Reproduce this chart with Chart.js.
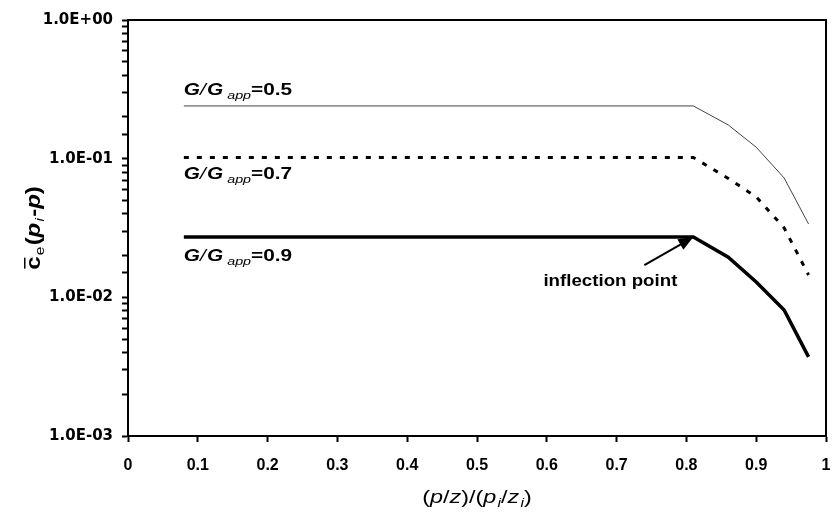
<!DOCTYPE html>
<html lang="en">
<head>
  <meta charset="UTF-8" />
  <title>Pressure ratio chart</title>
  <script src="https://cdn.jsdelivr.net/npm/chart.js"></script>
  <style>
    body { margin: 0; background: #fff; }
    #wrap { width: 833px; height: 517px; }
  </style>
</head>
<body>
  <div id="wrap"><canvas id="chart" width="833" height="517"></canvas></div>

  <script>
    // values
    const xVals = [0.08, 0.81, 0.86, 0.90, 0.94, 0.975];
    const c05 = [0.24, 0.24, 0.175, 0.121, 0.0726, 0.0338];
    const c07 = [0.102, 0.102, 0.072, 0.053, 0.0317, 0.0145];
    const c09 = [0.0272, 0.0272, 0.0195, 0.0129, 0.0081, 0.00372];
    const ratios = ['0.5', '0.7', '0.9'];
    const xTicks = [0, 0.1, 0.2, 0.3, 0.4, 0.5, 0.6, 0.7, 0.8, 0.9, 1];
    const yMajor = [1, 0.1, 0.01, 0.001];

    const toPts = ys => ys.map((y, i) => ({ x: xVals[i], y }));
    const F = 'Liberation Sans, Arial, sans-serif';

    // draw a run of text pieces with different fonts / baseline shifts
    function rich(ctx, parts, x, y, stretch) {
      stretch = stretch || 1;
      ctx.save();
      ctx.translate(x, y);
      ctx.scale(stretch, 1);
      ctx.textBaseline = 'alphabetic';
      ctx.textAlign = 'left';
      let cx = 0;
      parts.forEach(p => {
        ctx.font = p.font;
        ctx.fillText(p.t, cx, p.dy || 0);
        const w = ctx.measureText(p.t).width;
        if (p.bar) {
          ctx.fillRect(cx + 1, -16, w - 2, 1.5);
        }
        cx += w + (p.gap || 0);
      });
      ctx.restore();
    }
    function richWidth(ctx, parts, stretch) {
      let w = 0;
      ctx.save();
      parts.forEach(p => { ctx.font = p.font; w += ctx.measureText(p.t).width + (p.gap || 0); });
      ctx.restore();
      return w * (stretch || 1);
    }

    const gLabel = r => [
      { t: 'G', font: 'italic bold 16px ' + F },
      { t: '/', font: 'italic 16px ' + F, gap: 1 },
      { t: 'G', font: 'italic bold 16px ' + F, gap: 3 },
      { t: 'app', font: 'italic 11px ' + F, dy: 4 },
      { t: '=' + r, font: 'bold 16px ' + F }
    ];

    const extras = {
      id: 'extras',
      afterDraw(chart) {
        const { ctx, chartArea: a, scales: { x, y } } = chart;
        ctx.save();
        ctx.fillStyle = '#000';
        ctx.strokeStyle = '#000';

        // frame
        ctx.lineWidth = 2;
        ctx.strokeRect(a.left, a.top, a.right - a.left, a.bottom - a.top);

        // series labels
        const x0 = x.getPixelForValue(xVals[0]);
        rich(ctx, gLabel(ratios[0]), x0, y.getPixelForValue(c05[0]) - 11, 1.3);
        rich(ctx, gLabel(ratios[1]), x0, y.getPixelForValue(c07[0]) + 22, 1.3);
        rich(ctx, gLabel(ratios[2]), x0, y.getPixelForValue(c09[0]) + 24, 1.3);

        // inflection point arrow
        const tx = x.getPixelForValue(xVals[1]), ty = y.getPixelForValue(c09[1]);
        const sx = tx - 49, sy = ty + 28;
        const ang = Math.atan2(ty - sy, tx - sx);
        ctx.lineWidth = 2;
        ctx.beginPath();
        ctx.moveTo(sx, sy);
        ctx.lineTo(tx - 12 * Math.cos(ang), ty - 12 * Math.sin(ang));
        ctx.stroke();
        ctx.beginPath();
        ctx.moveTo(tx, ty);
        ctx.lineTo(tx - 15 * Math.cos(ang) + 6 * Math.sin(ang), ty - 15 * Math.sin(ang) - 6 * Math.cos(ang));
        ctx.lineTo(tx - 15 * Math.cos(ang) - 6 * Math.sin(ang), ty - 15 * Math.sin(ang) + 6 * Math.cos(ang));
        ctx.closePath();
        ctx.fill();
        rich(ctx, [{ t: 'inflection point', font: 'bold 17px ' + F }], tx - 150, ty + 49, 1.1);

        // x axis title
        const xt = [
          { t: '(', font: '18px ' + F },
          { t: 'p', font: 'italic 18px ' + F },
          { t: '/', font: '18px ' + F },
          { t: 'z', font: 'italic 18px ' + F },
          { t: ')/(', font: '18px ' + F },
          { t: 'p', font: 'italic 18px ' + F, gap: 1 },
          { t: 'i', font: 'italic 12px ' + F, dy: 4 },
          { t: '/', font: '18px ' + F },
          { t: 'z', font: 'italic 18px ' + F, gap: 1 },
          { t: 'i', font: 'italic 12px ' + F, dy: 4 },
          { t: ')', font: '18px ' + F }
        ];
        const xw = richWidth(ctx, xt, 1.3);
        rich(ctx, xt, (a.left + a.right) / 2 - xw / 2, 503, 1.3);

        // y axis title (rotated)
        const yt = [
          { t: 'c', font: 'bold 20px ' + F, bar: true, gap: 1 },
          { t: 'e', font: '13px ' + F, dy: 4, gap: 1 },
          { t: '(', font: 'bold 20px ' + F },
          { t: 'p', font: 'italic bold 20px ' + F, gap: 1 },
          { t: 'i', font: 'italic 13px ' + F, dy: 4, gap: 1 },
          { t: '-', font: 'bold 20px ' + F },
          { t: 'p', font: 'italic bold 20px ' + F },
          { t: ')', font: 'bold 20px ' + F }
        ];
        const yw = richWidth(ctx, yt, 1.2);
        ctx.save();
        ctx.translate(40, (a.top + a.bottom) / 2);
        ctx.rotate(-Math.PI / 2);
        rich(ctx, yt, -yw / 2, 0, 1.2);
        ctx.restore();

        ctx.restore();
      }
    };

    const expLabel = v => {
      const e = Math.round(Math.log10(v));
      const s = e < 0 ? '-' : '+';
      return '1.0E' + s + String(Math.abs(e)).padStart(2, '0');
    };

    new Chart(document.getElementById('chart'), {
      type: 'scatter',
      data: {
        datasets: [
          { data: toPts(c05), showLine: true, borderColor: '#444', borderWidth: 1, pointRadius: 0 },
          { data: toPts(c07), showLine: true, borderColor: '#000', borderWidth: 3, borderDash: [5, 8], pointRadius: 0 },
          { data: toPts(c09), showLine: true, borderColor: '#000', borderWidth: 3.5, pointRadius: 0 }
        ]
      },
      options: {
        responsive: false,
        animation: false,
        layout: { padding: { top: 20, right: 7, left: 0, bottom: 0 } },
        plugins: { legend: { display: false }, tooltip: { enabled: false } },
        scales: {
          x: {
            type: 'linear',
            min: 0,
            max: 1,
            afterFit: s => { s.height = 81; s.paddingRight = 0; s.paddingLeft = 0; },
            afterBuildTicks: s => { s.ticks = xTicks.map(v => ({ value: v })); },
            ticks: {
              color: '#000',
              padding: 14,
              maxRotation: 0,
              font: { family: 'Liberation Sans Narrow, Liberation Sans, Arial', weight: 'bold', size: 16 },
              callback: v => String(v)
            },
            grid: { drawOnChartArea: false, tickLength: 6, tickColor: '#000', tickWidth: 2 },
            border: { color: '#000', width: 2 }
          },
          y: {
            type: 'logarithmic',
            min: 0.001,
            max: 1,
            afterFit: s => { s.width = 128; s.paddingTop = 0; s.paddingBottom = 0; },
            ticks: {
              color: '#000',
              padding: 9,
              autoSkip: false,
              font: { family: 'DejaVu Sans', weight: 'bold', size: 15 },
              callback: v => yMajor.some(m => Math.abs(v - m) < m * 1e-6) ? expLabel(v) : ''
            },
            grid: { drawOnChartArea: false, tickLength: 6, tickColor: '#000', tickWidth: 2 },
            border: { color: '#000', width: 2 }
          }
        }
      },
      plugins: [extras]
    });
  </script>
</body>
</html>
